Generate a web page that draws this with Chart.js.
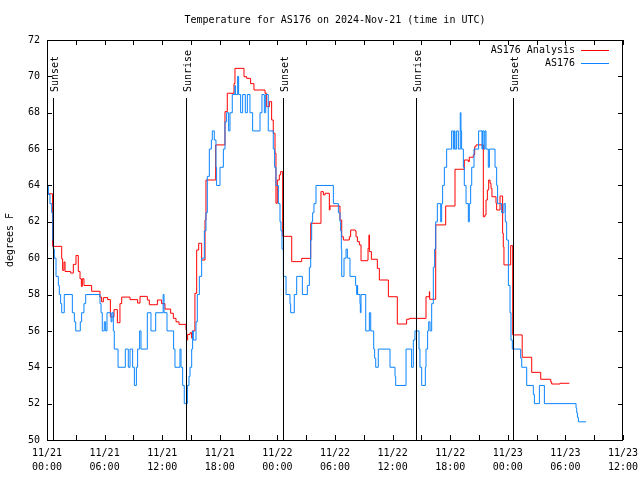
<!DOCTYPE html>
<html><head><meta charset="utf-8">
<script src="https://cdn.jsdelivr.net/npm/chart.js@4/dist/chart.umd.min.js"></script>
<style>html,body{margin:0;padding:0;background:#fff}canvas{display:block}</style>
</head><body>
<canvas id="c" width="640" height="480"></canvas>
<script>
// Observations (AS176), hours since 11/21 00:00 UTC, degrees F
const obsHours = [0,0.14,0.31,0.49,0.6,0.66,0.76,0.94,1.18,1.28,1.42,1.53,1.8,2.64,2.85,2.99,3.47,3.61,3.85,4.03,
  5.52,5.63,5.76,5.97,6.11,6.25,6.67,6.77,6.91,7.01,7.4,8.16,8.47,8.65,8.92,9.1,9.31,9.44,9.65,9.79,
  10.45,10.83,11.32,12.1,12.19,12.5,13.19,13.33,13.85,13.96,14.13,14.3,14.62,14.79,14.9,15.07,15.17,15.24,15.52,15.66,
  15.87,16.11,16.39,16.56,16.7,16.91,17.12,17.22,17.43,17.6,17.67,18.02,18.37,18.54,18.71,18.92,19.06,19.3,19.58,19.62,
  19.86,19.96,20.17,20.38,20.66,20.87,21.14,21.42,22.19,22.39,22.64,22.78,23.05,23.57,23.71,23.85,24.1,24.27,24.37,24.48,
  24.62,24.9,25.31,25.38,25.76,26.01,26.6,27.12,27.33,27.47,27.57,27.67,27.81,28.02,29.83,30.35,30.52,30.59,30.66,30.7,
  30.94,31.15,31.29,31.56,32.15,32.26,32.33,32.36,32.6,32.64,32.71,33.2,33.58,33.72,34.03,34.13,34.24,34.51,35.73,36.25,
  36.32,37.4,37.98,38.16,38.33,38.75,38.85,39.03,39.41,39.48,39.65,39.76,39.9,40.07,40.24,40.38,40.49,40.66,41.01,41.11,
  41.21,41.39,41.63,42.15,42.33,42.43,42.5,42.67,42.85,43.05,43.12,43.19,43.37,43.47,43.65,43.89,43.99,44.13,44.24,44.48,
  44.96,45.31,45.38,45.52,45.62,45.73,45.97,46.08,46.67,46.84,46.94,47.36,47.6,47.74,47.88,48.06,48.23,48.33,48.47,49.34,
  49.45,49.97,50.66,50.77,51.29,51.81,55.11,55.18,55.25,55.35,56.15];
const obsTemps = [64,63.5,63,62.5,61,60.5,60,59,58.5,58,57.5,57,58,57,56.5,56,56.5,57,57.5,58,
  57.5,57,56,56.5,56,57,56.5,57,56,55,54,55,54,55,54,53,54,55,56,55,
  57,56,57,58,57,56,55,54,55,54,53,52,53,53.5,54,55,56,55.5,56.5,58,
  59,60,61.5,62.5,64.5,66,66.5,67,66.5,65,64,65,66,67.5,68,67,68,69,69.5,69,
  70,69,68,69,68,69,68,67,68,69,68,69,67,66,65,64,63,62,61.5,60.5,
  59,58,57.5,57,58,59,58,58.5,59.5,61,62,62.5,63,64,63,62.5,62,61.5,60.5,59,
  60,60.5,60,59,58.5,58,58.5,58,57.5,57,58,56,57,56,55,54.5,54,55,54,53.5,
  53,55,54,55.5,56,55,54,53,54,55,56,56.5,56,57.5,59.5,60.5,62,63,62,63,
  64,65,66,67,66,67,66,67,66,68,67,66,65,64,63,62,63,64,65,66,
  67,66,67,66,67,66,65,66,65,64,63,62.5,63,62,61,58.5,57,55.5,55,54.5,
  54,53,52.5,52,53,52,51.75,51.5,51.25,51,51];

// Analysis (AS176 Analysis)
const anaHours = [0,0.58,1.53,1.63,1.77,1.88,2.47,2.74,3.02,3.26,3.44,3.58,3.68,3.85,4.65,5.52,5.69,5.87,6.32,6.6,
  6.98,7.33,7.6,7.78,8.65,9.44,9.69,10.45,10.66,11.5,11.94,12.29,12.88,13.16,13.44,13.75,14.48,14.55,14.65,14.9,
  15.07,15.14,15.41,15.59,15.8,16.11,16.46,16.56,17.57,18.54,18.78,19.48,19.58,20.52,20.8,21.21,21.56,22.71,22.88,23.16,
  23.4,23.57,23.75,23.85,23.99,24.2,24.34,24.55,25.49,26.53,27.47,28.54,28.79,28.96,29.41,29.48,30.52,30.7,30.87,31.49,
  31.63,32.12,32.19,32.33,32.54,32.71,33.4,33.44,33.54,33.58,33.79,34.41,34.62,35.56,36.49,37.46,37.74,39.48,39.83,39.86,
  40.49,41.53,42.5,43.47,43.89,43.99,44.41,44.55,44.69,45.45,45.62,45.73,45.87,46.01,46.15,46.25,46.35,46.77,46.84,47.19,
  47.46,47.53,47.6,48.3,48.51,49.5,50.49,51.43,52.47,52.57,53.44,54.41];
const anaTemps = [63.54,60.65,59.97,59.33,59.79,59.27,59.18,59.66,60.15,59.27,58.87,58.45,58.87,58.5,58.18,57.86,57.6,57.83,57.72,56.77,
  57.17,56.45,57.5,57.86,57.72,57.53,57.9,57.7,57.44,57.7,57.5,57.2,56.97,56.69,56.5,56.36,56.06,55.5,55.8,55.9,
  55.6,56.0,58.07,60.45,60.82,59.9,62.1,64.3,66.23,68.06,69.07,69.6,70.44,69.98,69.89,69.6,69.25,69.07,68.33,68.61,
  67.6,66.87,65.77,63.02,64.3,64.58,64.76,61.2,59.81,59.99,61.92,63.66,63.48,63.57,62.65,62.87,62.1,61.18,61.0,61.18,
  61.55,61.5,61.18,60.91,60.73,59.86,59.9,60.54,61.28,60.36,59.94,59.44,58.8,57.88,56.38,56.64,56.69,57.88,58.16,57.74,
  61.83,62.87,64.89,65.4,65.31,65.55,65.68,66.13,66.23,62.28,62.38,63.2,63.75,64.3,64.12,63.84,63.38,63.02,62.65,63.42,
  61.37,60.63,59.63,60.69,55.78,54.55,53.72,53.34,53.2,53.08,53.12,53.12];

const sunHours = [0.62, 14.48, 24.6, 38.46, 48.56];
const sunLabels = ['Sunset','Sunrise','Sunset','Sunrise','Sunset'];
const tickDates = ['11/21','11/21','11/21','11/21','11/22','11/22','11/22','11/22','11/23','11/23','11/23'];
const tickTimes = ['00:00','06:00','12:00','18:00','00:00','06:00','12:00','18:00','00:00','06:00','12:00'];

const FONT = 'DejaVu Sans Mono';
const toXY = (xs, ys) => xs.map((x, i) => ({x: x, y: ys[i]}));

const decor = {
  id: 'decor',
  beforeDraw(chart) {
    const c = chart.ctx;
    c.save(); c.fillStyle = '#fff'; c.fillRect(0, 0, chart.width, chart.height); c.restore();
  },
  afterDraw(chart) {
    const c = chart.ctx, a = chart.chartArea;
    const xs = chart.scales.x, ys = chart.scales.y;
    c.save();
    c.strokeStyle = '#000'; c.lineWidth = 1;
    // frame
    c.strokeRect(a.left + 0.5, a.top + 0.5, a.right - a.left - 1, a.bottom - a.top);
    // ticks (inward, mirrored)
    c.beginPath();
    ys.ticks.forEach(t => {
      const y = Math.round(ys.getPixelForValue(t.value)) + 0.5;
      c.moveTo(a.left, y); c.lineTo(a.left + 5, y);
      c.moveTo(a.right, y); c.lineTo(a.right - 5, y);
    });
    xs.ticks.forEach(t => {
      const x = Math.round(xs.getPixelForValue(t.value)) + 0.5;
      c.moveTo(x, a.bottom); c.lineTo(x, a.bottom - 5);
      c.moveTo(x, a.top); c.lineTo(x, a.top + 5);
    });
    c.stroke();
    // sunrise / sunset markers
    c.font = '10px "' + FONT + '"';
    c.fillStyle = '#000';
    sunHours.forEach((h, i) => {
      const x = Math.round(xs.getPixelForValue(h)) + 0.5;
      c.beginPath(); c.moveTo(x, a.top + 58); c.lineTo(x, a.bottom); c.stroke();
      c.save();
      c.translate(x + 1.5, a.top + 52);
      c.rotate(-Math.PI / 2);
      c.textAlign = 'left'; c.textBaseline = 'middle';
      c.fillText(sunLabels[i], 0, 0);
      c.restore();
    });
    // legend
    const order = [1, 0];
    order.forEach((di, row) => {
      const ds = chart.data.datasets[di];
      const y = a.top + 10 + row * 13;
      c.textAlign = 'right'; c.textBaseline = 'middle';
      c.fillStyle = '#000';
      c.fillText(ds.label, a.right - 48, y);
      c.strokeStyle = ds.borderColor;
      c.beginPath(); c.moveTo(a.right - 42, Math.round(y) + 0.5); c.lineTo(a.right - 14, Math.round(y) + 0.5); c.stroke();
    });
    c.restore();
  }
};

new Chart(document.getElementById('c'), {
  type: 'line',
  data: {
    datasets: [
      { label: 'AS176', data: toXY(obsHours, obsTemps), borderColor: '#0a84ff', borderWidth: 1,
        pointRadius: 0, stepped: true, fill: false, order: 0 },
      { label: 'AS176 Analysis', data: toXY(anaHours, anaTemps), borderColor: '#ff0000', borderWidth: 1,
        pointRadius: 0, stepped: true, fill: false, order: 1 }
    ]
  },
  options: {
    responsive: false,
    animation: false,
    layout: { padding: { left: 0, right: 17, top: 0, bottom: 0 } },
    plugins: {
      legend: { display: false },
      tooltip: { enabled: false },
      title: {
        display: true, fullSize: false,
        text: 'Temperature for AS176 on 2024-Nov-21 (time in UTC)',
        color: '#000', font: { family: FONT, size: 10, weight: 'normal', lineHeight: 1.2 },
        padding: { top: 14, bottom: 14 }
      }
    },
    scales: {
      x: {
        type: 'linear', min: 0, max: 60,
        grid: { display: false, drawTicks: false },
        border: { display: false },
        afterFit: s => { s.height = 40; s.paddingLeft = 0; s.paddingRight = 0; },
        ticks: {
          stepSize: 3, autoSkip: false, maxRotation: 0, minRotation: 0, padding: 6,
          color: '#000', font: { family: FONT, size: 10, lineHeight: 1.4 },
          callback: v => (v % 6 === 0) ? [tickDates[v / 6], tickTimes[v / 6]] : ''
        }
      },
      y: {
        min: 50, max: 72,
        grid: { display: false, drawTicks: false },
        border: { display: false },
        afterFit: s => { s.width = 47; s.paddingTop = 0; s.paddingBottom = 0; },
        ticks: { stepSize: 2, padding: 7, color: '#000', font: { family: FONT, size: 10 } },
        title: { display: true, text: 'degrees F', color: '#000',
          font: { family: FONT, size: 10, lineHeight: 1.2 }, padding: { top: 4, bottom: 0 } }
      }
    }
  },
  plugins: [decor]
});
</script>
</body></html>
